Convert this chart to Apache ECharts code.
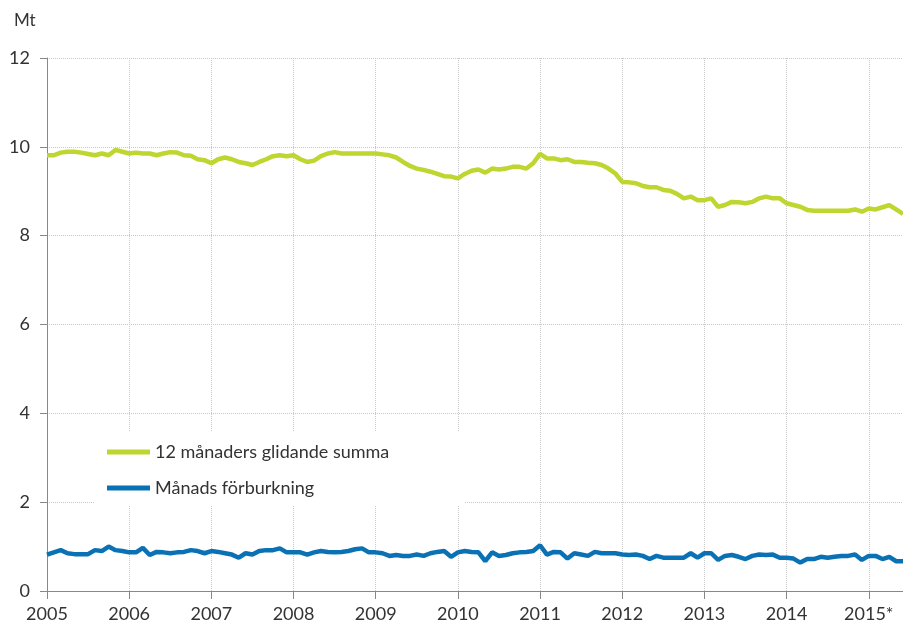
<!DOCTYPE html>
<html>
<head>
<meta charset="utf-8">
<script src="https://cdn.jsdelivr.net/npm/echarts@6/dist/echarts.min.js"></script>
<style>
  html, body { margin: 0; padding: 0; background: #fff; }
  #chart { width: 903px; height: 630px; }
</style>
</head>
<body>
<div id="chart"></div>
<script>
// monthly data, Jan 2005 .. Jun 2015
const startYear = 2005
const monthCount = 126
const months = []
for (let i = 0; i < monthCount; i++) {
  const y = startYear + Math.floor(i / 12)
  const m = (i % 12) + 1
  months.push(y + '-' + (m < 10 ? '0' + m : m))
}

const rollingSum = [
  9.81, 9.81, 9.87, 9.89, 9.89, 9.87, 9.84, 9.81, 9.85, 9.81, 9.93, 9.89,
  9.85, 9.87, 9.85, 9.85, 9.81, 9.85, 9.88, 9.87, 9.81, 9.80, 9.72, 9.70,
  9.63, 9.72, 9.76, 9.72, 9.66, 9.63, 9.59, 9.66, 9.72, 9.79, 9.81, 9.79,
  9.81, 9.72, 9.66, 9.69, 9.79, 9.85, 9.88, 9.85, 9.85, 9.85, 9.85, 9.85,
  9.85, 9.83, 9.81, 9.76, 9.66, 9.57, 9.51, 9.48, 9.44, 9.39, 9.34, 9.33,
  9.29, 9.39, 9.46, 9.49, 9.42, 9.51, 9.49, 9.51, 9.55, 9.55, 9.51, 9.63,
  9.84, 9.74, 9.74, 9.70, 9.72, 9.66, 9.66, 9.64, 9.63, 9.59, 9.51, 9.40,
  9.21, 9.20, 9.18, 9.12, 9.09, 9.09, 9.03, 9.01, 8.94, 8.84, 8.88, 8.80,
  8.80, 8.84, 8.65, 8.69, 8.76, 8.75, 8.73, 8.76, 8.84, 8.88, 8.84, 8.84,
  8.73, 8.69, 8.65, 8.58, 8.56, 8.56, 8.56, 8.56, 8.56, 8.56, 8.59, 8.54,
  8.61, 8.59, 8.64, 8.69, 8.59, 8.49
]

const monthly = [
  0.82, 0.87, 0.92, 0.85, 0.83, 0.83, 0.83, 0.92, 0.90, 1.00, 0.92, 0.90,
  0.87, 0.87, 0.97, 0.81, 0.88, 0.87, 0.85, 0.87, 0.88, 0.92, 0.90, 0.85,
  0.90, 0.88, 0.85, 0.82, 0.75, 0.85, 0.82, 0.90, 0.92, 0.92, 0.96, 0.87,
  0.87, 0.87, 0.82, 0.87, 0.90, 0.88, 0.87, 0.88, 0.90, 0.94, 0.96, 0.87,
  0.87, 0.85, 0.79, 0.81, 0.79, 0.79, 0.82, 0.79, 0.85, 0.88, 0.90, 0.77,
  0.87, 0.90, 0.88, 0.87, 0.67, 0.87, 0.79, 0.81, 0.85, 0.87, 0.88, 0.90,
  1.03, 0.82, 0.88, 0.87, 0.73, 0.85, 0.82, 0.79, 0.88, 0.85, 0.85, 0.85,
  0.82, 0.81, 0.82, 0.79, 0.72, 0.79, 0.75, 0.75, 0.75, 0.75, 0.85, 0.75,
  0.85, 0.85, 0.70, 0.79, 0.81, 0.77, 0.72, 0.79, 0.82, 0.81, 0.82, 0.75,
  0.75, 0.73, 0.64, 0.72, 0.72, 0.77, 0.75, 0.77, 0.79, 0.79, 0.82, 0.70,
  0.79, 0.79, 0.72, 0.77, 0.67, 0.67
]

const seriesNames = ['12 månaders glidande summa', 'Månads förburkning']
const colors = ['#bed62f', '#0a72b4']
const yTicks = [0, 2, 4, 6, 8, 10, 12]

const font = 'Lato, "Open Sans", sans-serif'
const chart = echarts.init(document.getElementById('chart'))

const yearTick = (i) => i % 12 === 0

const option = {
  animation: false,
  backgroundColor: '#fff',
  textStyle: { fontFamily: font },
  graphic: [{
    type: 'text',
    left: 14,
    top: 12,
    style: { text: 'Mt', fontSize: 17, fill: '#333', fontFamily: font }
  }],
  grid: { left: 47, right: 0, top: 58, bottom: 39 },
  legend: {
    orient: 'vertical',
    left: 95,
    top: 432,
    backgroundColor: '#fff',
    padding: [11, 75, 9, 12],
    itemGap: 18,
    itemWidth: 43,
    itemHeight: 5,
    icon: 'rect',
    textStyle: { fontSize: 18, color: '#333', fontFamily: font },
    data: seriesNames
  },
  xAxis: {
    type: 'category',
    data: months,
    boundaryGap: false,
    axisLine: { lineStyle: { color: '#888', width: 1 } },
    axisTick: { interval: (i) => yearTick(i), length: 8, lineStyle: { color: '#888' } },
    axisLabel: {
      interval: (i) => yearTick(i),
      color: '#333',
      fontSize: 18,
      margin: 14,
      formatter: (v) => {
        const y = v.slice(0, 4)
        return y === '2015' ? '2015*' : y
      }
    },
    splitLine: {
      show: true,
      interval: (i) => yearTick(i) && i > 0,
      lineStyle: { color: '#c8c8c8', type: 'dotted', width: 1 }
    }
  },
  yAxis: {
    type: 'value',
    min: yTicks[0],
    max: yTicks[yTicks.length - 1],
    interval: 2,
    axisLine: { show: true, lineStyle: { color: '#888', width: 1 } },
    axisTick: { show: true, length: 7, lineStyle: { color: '#888' } },
    axisLabel: { color: '#333', fontSize: 18, margin: 17 },
    splitLine: { lineStyle: { color: '#c8c8c8', type: 'dotted', width: 1 } }
  },
  series: [
    {
      name: seriesNames[0],
      type: 'line',
      data: rollingSum,
      symbol: 'none',
      color: colors[0],
      lineStyle: { width: 4.5, color: colors[0] }
    },
    {
      name: seriesNames[1],
      type: 'line',
      data: monthly,
      symbol: 'none',
      color: colors[1],
      lineStyle: { width: 4.5, color: colors[1] }
    }
  ]
}

chart.setOption(option)
</script>
</body>
</html>
